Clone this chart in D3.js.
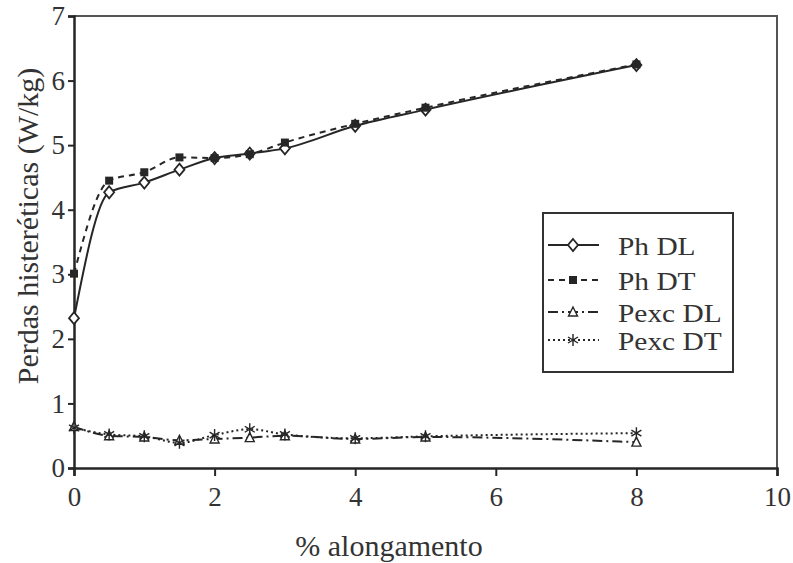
<!DOCTYPE html>
<html>
<head>
<meta charset="utf-8">
<script src="https://cdnjs.cloudflare.com/ajax/libs/d3/7.8.5/d3.min.js"></script>
<style>
body { margin: 0; background: #fff; }
svg { display: block; }
</style>
</head>
<body>
<svg id="chart" width="793" height="563"></svg>
<script>
// data
const xVals = [0, 0.5, 1, 1.5, 2, 2.5, 3, 4, 5, 8];
const phDL = [2.32, 4.27, 4.42, 4.62, 4.80, 4.87, 4.95, 5.30, 5.55, 6.24];
const phDT = [3.01, 4.45, 4.58, 4.81, 4.80, 4.86, 5.04, 5.33, 5.58, 6.25];
const pexcDL = [0.64, 0.50, 0.48, 0.43, 0.45, 0.47, 0.50, 0.45, 0.48, 0.40];
const pexcDT = [0.62, 0.52, 0.49, 0.39, 0.51, 0.60, 0.52, 0.46, 0.49, 0.54];
const seriesNames = ['Ph DL', 'Ph DT', 'Pexc DL', 'Pexc DT'];
const xTicks = [0, 2, 4, 6, 8, 10];
const yTicks = [0, 1, 2, 3, 4, 5, 6, 7];

const svg = d3.select('#chart');
const margin = {top: 16, right: 16, bottom: 95, left: 74};
const width = 793 - margin.left - margin.right;
const height = 563 - margin.top - margin.bottom;
const ink = '#262626';
const serif = '"Liberation Serif", "Times New Roman", serif';

const scaleX = d3.scaleLinear().domain([0, 10]).range([0, width]);
const scaleY = d3.scaleLinear().domain([0, 7]).range([height, 0]);

const g = svg.append('g')
	.attr('transform', 'translate(' + margin.left + ',' + margin.top + ')');

// frame (top and right)
g.append('path')
	.attr('d', 'M0,0H' + width + 'V' + height)
	.attr('fill', 'none')
	.attr('stroke', '#555')
	.attr('stroke-width', 2);

// axes
const xAxis = g.append('g')
	.attr('transform', 'translate(0,' + height + ')')
	.call(d3.axisBottom(scaleX).tickValues(xTicks).tickFormat(d3.format('d')).tickSize(8).tickPadding(11));
const yAxis = g.append('g')
	.call(d3.axisLeft(scaleY).tickValues(yTicks).tickFormat(d3.format('d')).tickSize(6).tickPadding(3));

[xAxis, yAxis].forEach(function(ax) {
	ax.select('.domain').attr('stroke', ink).attr('stroke-width', 2.5);
	ax.selectAll('.tick line').attr('stroke', ink).attr('stroke-width', 2);
	ax.selectAll('.tick text')
		.attr('font-family', serif)
		.attr('font-size', 27)
		.attr('fill', '#333');
});

// axis titles
svg.append('text')
	.attr('x', 389)
	.attr('y', 556)
	.attr('text-anchor', 'middle')
	.attr('font-family', serif)
	.attr('font-size', 30)
	.attr('fill', '#333')
	.text('% alongamento');

svg.append('text')
	.attr('transform', 'translate(38,226) rotate(-90)')
	.attr('text-anchor', 'middle')
	.attr('font-family', serif)
	.attr('font-size', 30)
	.attr('fill', '#333')
	.text('Perdas histeréticas (W/kg)');

// series
const series = [
	{name: seriesNames[0], values: phDL, dash: null, marker: 'diamond'},
	{name: seriesNames[1], values: phDT, dash: '6,5', marker: 'square'},
	{name: seriesNames[2], values: pexcDL, dash: '10,4,2,4', marker: 'triangle'},
	{name: seriesNames[3], values: pexcDT, dash: '2,3', marker: 'asterisk'}
];

const line = d3.line()
	.x(function(d) { return scaleX(d[0]); })
	.y(function(d) { return scaleY(d[1]); })
	.curve(d3.curveMonotoneX);

function drawMarker(sel, type) {
	if (type === 'diamond') {
		sel.append('path').attr('d', 'M0,-6L5,0L0,6L-5,0Z')
			.attr('fill', '#fff').attr('stroke', ink).attr('stroke-width', 1.8);
	} else if (type === 'square') {
		sel.append('rect').attr('x', -4).attr('y', -4).attr('width', 8).attr('height', 8)
			.attr('fill', ink);
	} else if (type === 'triangle') {
		sel.append('path').attr('d', 'M0,-5L4.5,4L-4.5,4Z')
			.attr('fill', '#fff').attr('stroke', ink).attr('stroke-width', 1.4);
	} else {
		sel.append('path').attr('d', 'M0,-6V6M-5,-3L5,3M-5,3L5,-3')
			.attr('fill', 'none').attr('stroke', ink).attr('stroke-width', 1.4);
	}
}

series.forEach(function(s) {
	const pts = xVals.map(function(x, i) { return [x, s.values[i]]; });
	g.append('path')
		.datum(pts)
		.attr('d', line)
		.attr('fill', 'none')
		.attr('stroke', ink)
		.attr('stroke-width', 2)
		.attr('stroke-dasharray', s.dash);
	g.selectAll(null)
		.data(pts)
		.enter()
		.append('g')
		.attr('transform', function(d) { return 'translate(' + scaleX(d[0]) + ',' + scaleY(d[1]) + ')'; })
		.each(function() { drawMarker(d3.select(this), s.marker); });
});

// legend
const legend = svg.append('g').attr('transform', 'translate(543,213)');
legend.append('rect')
	.attr('width', 190).attr('height', 159)
	.attr('fill', '#fff').attr('stroke', '#333').attr('stroke-width', 2);

const rowY = [32, 67, 99, 127];
series.forEach(function(s, i) {
	const row = legend.append('g').attr('transform', 'translate(0,' + rowY[i] + ')');
	row.append('line')
		.attr('x1', 5).attr('x2', 56)
		.attr('stroke', ink).attr('stroke-width', 2)
		.attr('stroke-dasharray', s.dash);
	drawMarker(row.append('g').attr('transform', 'translate(30,0)'), s.marker);
	// legend type in the scan is slightly squashed vertically
	row.append('text')
		.attr('transform', 'translate(75,10) scale(1.05,0.88)')
		.attr('font-family', serif)
		.attr('font-size', 28)
		.attr('fill', '#333')
		.text(s.name);
});
</script>
</body>
</html>
